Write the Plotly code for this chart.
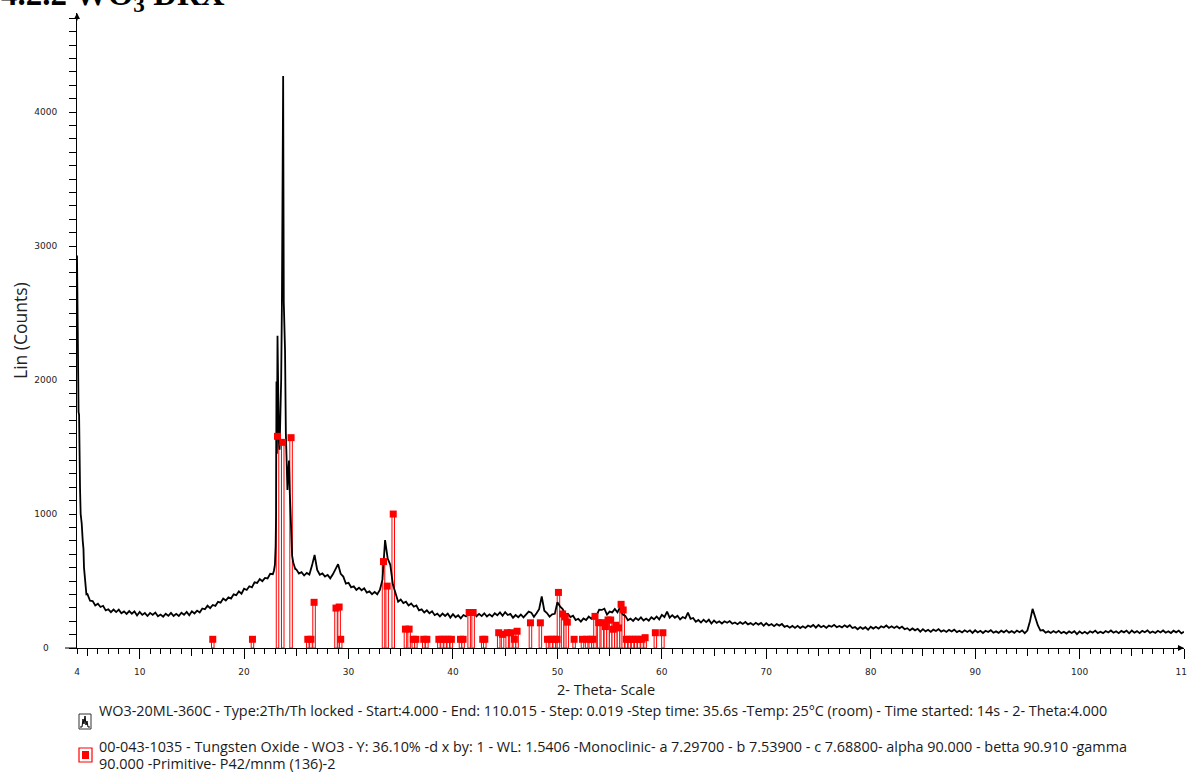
import numpy as np
import plotly.graph_objects as go

# ---------------- data ----------------
# steep low-angle start (2-theta, counts)
head_x = [4.0, 4.03, 4.07, 4.1, 4.15, 4.2, 4.24, 4.29, 4.35, 4.45, 4.55, 4.62, 4.67, 4.75, 4.83, 4.9]
head_y = [2930, 2600, 2100, 1780, 1760, 1740, 1300, 1190, 1000, 930, 800, 740, 600, 500, 430, 400]

# 5.00 .. 22.75 every 0.25
low_start, low_step = 5.0, 0.25
low_y = [402, 353, 351, 318, 330, 306, 315, 281, 289, 268, 287, 268, 286, 260, 273, 254, 275, 256, 273, 243,
         269, 247, 261, 239, 262, 247, 265, 237, 250, 234, 256, 240, 262, 239, 255, 239, 263, 248, 269, 244,
         274, 258, 279, 265, 295, 289, 316, 298, 321, 314, 345, 338, 369, 354, 378, 369, 401, 394, 423, 405,
         442, 433, 461, 453, 490, 486, 515, 499, 523, 519, 554, 551]

# main reflection cluster
main_x = [22.85, 22.95, 23.02, 23.06, 23.1, 23.14, 23.2, 23.26, 23.33, 23.4, 23.47, 23.55, 23.62, 23.68,
          23.74, 23.8, 23.86, 23.92, 24.0, 24.08, 24.15, 24.22, 24.3, 24.38, 24.45, 24.52, 24.6, 24.7, 24.8, 24.9]
main_y = [575, 620, 760, 980, 1990, 1450, 2330, 1750, 1550, 1480, 1650, 2000, 2560, 3100,
          4270, 2580, 2400, 2220, 1600, 1250, 1180, 1300, 1400, 1150, 1000, 850, 690, 640, 610, 590]

# 25.00 .. 110.00 every 0.25
high_start, high_step = 25.0, 0.25
high_y = [587, 556, 566, 541, 560, 548, 615, 694, 583, 547, 557, 533, 546, 520, 550, 588, 626, 554, 533, 480,
          487, 453, 461, 434, 450, 431, 445, 414, 423, 402, 419, 401, 434, 510, 805, 668, 621, 474, 408, 345,
          362, 336, 346, 318, 332, 308, 317, 281, 288, 265, 281, 259, 274, 245, 256, 236, 257, 239, 257, 227,
          252, 230, 244, 222, 246, 236, 265, 269, 268, 237, 255, 238, 259, 235, 251, 235, 259, 244, 265, 240,
          268, 246, 254, 226, 246, 230, 250, 229, 253, 272, 264, 233, 259, 290, 385, 278, 261, 234, 251, 255,
          342, 311, 291, 251, 255, 231, 241, 209, 218, 197, 221, 209, 234, 218, 245, 243, 286, 284, 293, 250,
          272, 266, 291, 266, 305, 251, 240, 207, 219, 202, 224, 208, 229, 205, 220, 204, 229, 214, 235, 213,
          247, 231, 271, 226, 245, 226, 241, 213, 231, 222, 264, 218, 224, 196, 209, 190, 211, 193, 211, 182,
          205, 188, 199, 183, 199, 188, 201, 181, 190, 178, 193, 180, 194, 176, 186, 172, 188, 175, 187, 166,
          185, 168, 179, 163, 179, 167, 179, 158, 166, 152, 165, 150, 165, 149, 162, 150, 168, 158, 172, 152,
          172, 155, 166, 150, 167, 158, 173, 155, 165, 154, 169, 156, 170, 149, 156, 140, 156, 143, 155, 136,
          159, 145, 158, 144, 162, 153, 168, 150, 162, 149, 162, 147, 160, 140, 148, 132, 146, 132, 143, 122,
          141, 124, 136, 120, 137, 127, 141, 122, 132, 120, 135, 123, 137, 119, 129, 116, 132, 120, 132, 112,
          132, 116, 128, 112, 129, 119, 133, 114, 124, 113, 129, 117, 132, 115, 126, 113, 130, 118, 131, 111,
          130, 200, 292, 225, 170, 130, 134, 114, 124, 112, 127, 114, 128, 111, 121, 108, 124, 112, 125, 104,
          124, 109, 121, 107, 125, 115, 130, 111, 122, 111, 127, 116, 131, 114, 125, 111, 128, 117, 130, 110,
          130, 114, 126, 111, 128, 118, 132, 113, 123, 112, 128, 116, 131, 114, 125, 112, 129, 117, 130, 110,
          122]

# reference pattern 00-043-1035 (stick positions and heights)
ref_x = [17.0, 20.8, 23.2, 23.7, 24.5, 26.1, 26.4, 26.7, 28.8, 29.1, 29.25, 33.35, 33.7, 34.28, 35.45, 35.8,
         36.2, 36.45, 37.2, 37.5, 38.65, 38.95, 39.25, 39.55, 39.85, 40.72, 40.97, 41.55, 41.93, 42.85, 43.05,
         44.38, 44.75, 45.19, 45.55, 45.88, 46.14, 47.42, 48.37, 49.05, 49.4, 49.7, 49.97, 50.1, 50.5, 50.75,
         50.95, 51.6, 52.4, 52.8, 53.15, 53.4, 53.6, 53.95, 54.3, 54.6, 54.85, 55.1, 55.35, 55.6, 55.85, 56.1,
         56.3, 56.6, 56.9, 57.2, 57.5, 57.8, 58.1, 58.4, 59.38, 60.1]
ref_h = [65, 65, 1580, 1535, 1570, 65, 65, 341, 298, 306, 65, 645, 462, 1000, 141, 141,
         65, 65, 65, 65, 65, 65, 65, 65, 65, 65, 65, 265, 265, 65, 65,
         114, 102, 114, 114, 65, 125, 188, 188, 65, 65, 65, 65, 415, 254, 232,
         193, 65, 65, 65, 65, 65, 236, 189, 189, 160, 209, 209, 140, 170, 150, 326,
         284, 65, 65, 65, 65, 65, 65, 77, 114, 114]

x_tick_vals = [4, 10, 20, 30, 40, 50, 60, 70, 80, 90, 100, 110]
x_tick_text = ["4", "10", "20", "30", "40", "50", "60", "70", "80", "90", "100", "110"]
x_mid_ticks = [5, 15, 25, 35, 45, 55, 65, 75, 85, 95, 105]
x_long_ticks = [10, 20, 30, 40, 50, 60, 70, 80, 90, 100, 110]
y_tick_vals = [0, 1000, 2000, 3000, 4000]
y_tick_text = ["0\u00a0\u00a0\u00a0", "1000", "2000", "3000", "4000"]

legend_1 = ("WO3-20ML-360C - Type:2Th/Th locked - Start:4.000 - End: 110.015 - Step: 0.019 -Step time: 35.6s "
            "-Temp: 25°C (room) - Time started: 14s - 2- Theta:4.000")
legend_2a = ("00-043-1035 - Tungsten Oxide - WO3 - Y: 36.10% -d x by: 1 - WL: 1.5406 -Monoclinic- a 7.29700 "
             "- b 7.53900 - c 7.68800- alpha 90.000 - betta 90.910 -gamma")
legend_2b = "90.000 -Primitive- P42/mnm (136)-2"

# ---------------- build ----------------
low_x = list(np.round(low_start + low_step * np.arange(len(low_y)), 3))
high_x = list(np.round(high_start + high_step * np.arange(len(high_y)), 3))
x_all = head_x + low_x + main_x + high_x
y_all = head_y + low_y + main_y + high_y

W, H = 1187, 773
L, R, T, B = 77, 3, 13, 125
PW, PH = W - L - R, H - T - B


def fx(px):
    return (px - L) / PW


def fy(py):
    return (H - B - py) / PH


fig = go.Figure()
fig.add_trace(go.Bar(x=ref_x, y=ref_h, width=0.24, xaxis="x", yaxis="y",
                     marker=dict(color="white", line=dict(color="#ff0000", width=1)),
                     hoverinfo="skip"))
fig.add_trace(go.Scatter(x=x_all, y=y_all, mode="lines", xaxis="x2", yaxis="y",
                         line=dict(color="black", width=1.8), hoverinfo="skip"))
fig.add_trace(go.Scatter(x=ref_x, y=ref_h, mode="markers", xaxis="x3", yaxis="y", cliponaxis=False,
                         marker=dict(symbol="square", size=7, color="#ff0000", line=dict(width=0)),
                         hoverinfo="skip"))

tickfont = dict(family="DejaVu Sans", size=9, color="#222222")
fig.update_layout(
    width=W, height=H, margin=dict(l=L, r=R, t=T, b=B, pad=0),
    paper_bgcolor="white", plot_bgcolor="white", showlegend=False, barmode="overlay",
    xaxis=dict(range=[4, 110], showline=True, linecolor="black", linewidth=1, showgrid=False, zeroline=False,
               tickmode="array", tickvals=x_tick_vals, ticktext=x_tick_text, ticks="outside", ticklen=5,
               tickwidth=1, tickcolor="black", ticklabelstandoff=10, tickfont=tickfont, automargin=False,
               ticklabeloverflow="allow",
               minor=dict(tickmode="linear", tick0=4, dtick=1, ticks="outside", ticklen=5, tickwidth=1,
                          tickcolor="black", showgrid=False)),
    xaxis2=dict(range=[4, 110], overlaying="x", anchor="y", side="bottom", showline=False, showgrid=False,
                zeroline=False, tickmode="array", tickvals=x_mid_ticks, ticks="outside", ticklen=7,
                tickwidth=1, tickcolor="black", showticklabels=False),
    xaxis3=dict(range=[4, 110], overlaying="x", anchor="y", side="bottom", showline=False, showgrid=False,
                zeroline=False, tickmode="array", tickvals=x_long_ticks, ticks="outside", ticklen=10,
                tickwidth=1, tickcolor="black", showticklabels=False),
    yaxis=dict(range=[0, 4740], showline=True, linecolor="black", linewidth=1, showgrid=False, zeroline=False,
               tickmode="array", tickvals=y_tick_vals, ticktext=y_tick_text, ticks="outside", ticklen=7,
               tickwidth=1, tickcolor="black", ticklabelstandoff=10, tickfont=tickfont, automargin=False,
               minor=dict(tickmode="linear", tick0=0, dtick=100, ticks="outside", ticklen=7, tickwidth=1,
                          tickcolor="black", showgrid=False)),
)

text_font = dict(family="Open Sans", size=14.4, color="#1a1a1a")
annotations = [
    dict(text="<b>4.2.2 WO<sub>3</sub> DRX</b>", x=fx(-1), y=fy(19), xanchor="left", yanchor="bottom",
         font=dict(family="Liberation Serif", size=33, color="black")),
    dict(text="Lin (Counts)", textangle=-90, x=fx(20), y=fy(331), xanchor="center", yanchor="middle",
         font=dict(family="Open Sans", size=17.5, color="#222222")),
    dict(text="2- Theta- Scale", x=fx(606), y=fy(689), xanchor="center", yanchor="middle",
         font=dict(family="Open Sans", size=14.5, color="#1a1a1a")),
    dict(text=legend_1, x=fx(97), y=fy(710), xanchor="left", yanchor="middle", align="left", font=text_font),
    dict(text=legend_2a, x=fx(97), y=fy(746), xanchor="left", yanchor="middle", align="left", font=text_font),
    dict(text=legend_2b, x=fx(97), y=fy(763), xanchor="left", yanchor="middle", align="left", font=text_font),
]
for a in annotations:
    a.update(xref="paper", yref="paper", showarrow=False)

# axis arrow heads
annotations.append(dict(x=4, y=4740, xref="x", yref="y", ax=0, ay=9, axref="pixel", ayref="pixel",
                        showarrow=True, arrowhead=2, arrowsize=1, arrowwidth=1.2, arrowcolor="black", text=""))
annotations.append(dict(x=110, y=0, xref="x", yref="y", ax=-8, ay=0, axref="pixel", ayref="pixel",
                        showarrow=True, arrowhead=2, arrowsize=1, arrowwidth=1.2, arrowcolor="black", text=""))
fig.update_layout(annotations=annotations)

# x-axis line extension left of the origin and legend icons
zig = [(80, 727), (82, 727), (83, 719), (84, 724), (85, 716), (86, 725), (87, 721), (88, 727), (90, 727)]
zig_path = "M " + " L ".join(f"{fx(a):.5f},{fy(b):.5f}" for a, b in zig)
shapes = [
    dict(type="line", xref="paper", yref="paper", x0=fx(65), x1=fx(77), y0=0, y1=0,
         line=dict(color="black", width=1)),
    dict(type="rect", xref="paper", yref="paper", x0=fx(79), x1=fx(91), y0=fy(729), y1=fy(714),
         line=dict(color="#333333", width=1)),
    dict(type="path", xref="paper", yref="paper", path=zig_path, line=dict(color="black", width=1)),
    dict(type="rect", xref="paper", yref="paper", x0=fx(79), x1=fx(92), y0=fy(762), y1=fy(748),
         line=dict(color="#ff0000", width=1.2)),
    dict(type="rect", xref="paper", yref="paper", x0=fx(82), x1=fx(89), y0=fy(759), y1=fy(751),
         line=dict(width=0), fillcolor="#ff0000"),
]
fig.update_layout(shapes=shapes)

fig.write_html("out.html")
